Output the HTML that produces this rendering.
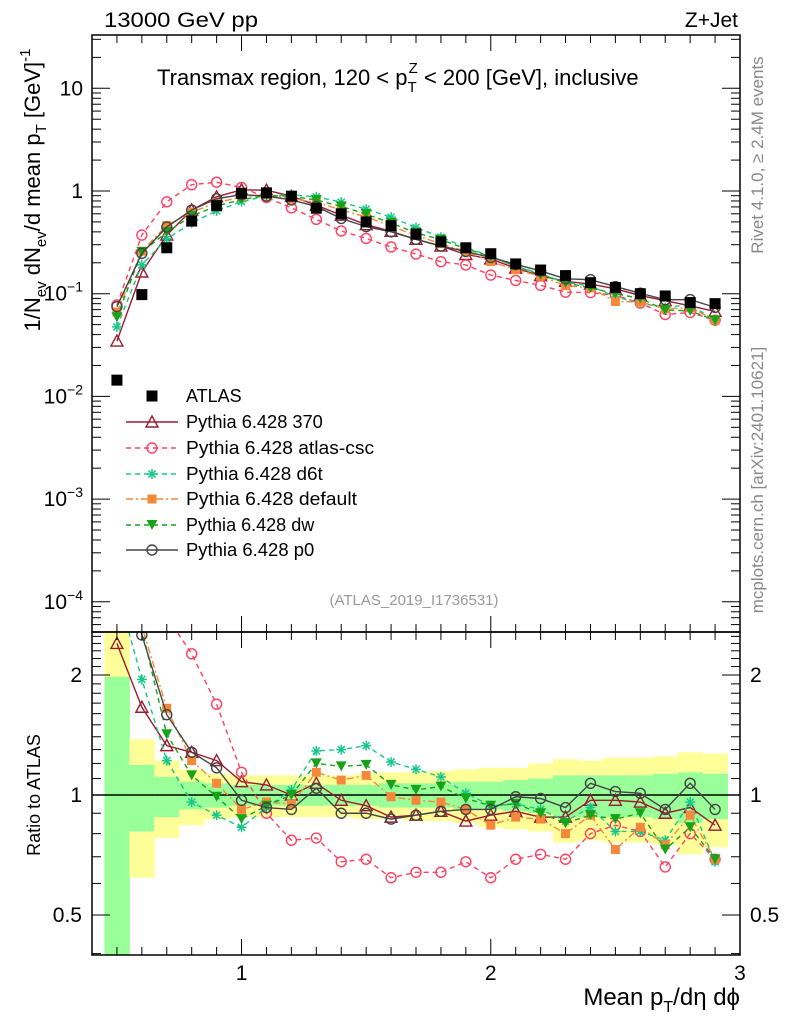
<!DOCTYPE html>
<html><head><meta charset="utf-8"><style>
body{margin:0;background:#fff;}
svg{display:block;font-family:"Liberation Sans",sans-serif;}
</style></head><body>
<svg id="c" width="786" height="1024" xmlns="http://www.w3.org/2000/svg"></svg>
<script>
const xBins=[0.5,0.6,0.7,0.8,0.9,1.0,1.1,1.2,1.3,1.4,1.5,1.6,1.7,1.8,1.9,2.0,2.1,2.2,2.3,2.4,2.5,2.6,2.7,2.8,2.9];
const atlasVals=[0.0144,0.098,0.28,0.51,0.72,0.95,0.96,0.89,0.68,0.6,0.5,0.46,0.38,0.32,0.28,0.245,0.195,0.17,0.15,0.128,0.115,0.1,0.095,0.082,0.08];
const r370=[2.4,1.66,1.33,1.28,1.22,1.08,1.06,1.0,1.07,0.97,0.94,0.88,0.89,0.91,0.86,0.89,0.91,0.88,0.88,0.97,0.97,0.96,0.9,0.93,0.84];
const rCsc=[5.4,3.8,2.8,2.26,1.69,1.14,0.9,0.77,0.78,0.68,0.69,0.62,0.64,0.64,0.68,0.62,0.69,0.71,0.69,0.8,0.84,0.81,0.66,0.8,0.69];
const rD6t=[3.3,1.95,1.22,0.96,0.89,0.83,0.93,1.03,1.29,1.3,1.33,1.21,1.16,1.11,1.01,0.94,0.95,0.92,0.86,0.93,0.81,0.81,0.77,0.96,0.68];
const rDef=[4.6,2.65,1.65,1.22,1.07,0.92,0.96,0.95,1.14,1.09,1.12,0.99,0.97,0.96,0.92,0.84,0.88,0.87,0.8,0.89,0.73,0.83,0.75,0.89,0.69];
const rDw=[4.1,2.6,1.42,1.12,0.99,0.87,0.94,1.0,1.2,1.18,1.19,1.06,1.03,1.05,0.98,0.94,0.95,0.9,0.85,0.89,0.87,0.9,0.73,0.83,0.69];
const rP0=[5.2,2.52,1.59,1.28,1.17,0.97,0.93,0.92,1.04,0.9,0.9,0.87,0.89,0.91,0.92,0.92,0.99,0.98,0.93,1.07,1.02,1.01,0.92,1.07,0.92];
const yelUp=[2.6,1.38,1.22,1.16,1.13,1.12,1.12,1.12,1.12,1.12,1.13,1.14,1.14,1.15,1.16,1.17,1.17,1.2,1.23,1.22,1.24,1.24,1.25,1.28,1.27];
const yelLo=[0.3,0.62,0.78,0.84,0.87,0.88,0.88,0.88,0.88,0.88,0.87,0.87,0.86,0.86,0.85,0.83,0.82,0.81,0.76,0.77,0.76,0.76,0.75,0.71,0.74];
const grnUp=[1.98,1.19,1.11,1.08,1.07,1.06,1.06,1.06,1.06,1.06,1.06,1.07,1.07,1.07,1.08,1.08,1.09,1.1,1.12,1.12,1.12,1.12,1.13,1.14,1.13];
const grnLo=[0.3,0.81,0.88,0.92,0.93,0.94,0.94,0.94,0.94,0.94,0.94,0.93,0.93,0.93,0.92,0.92,0.91,0.9,0.88,0.88,0.88,0.88,0.87,0.85,0.87];
const xTicks=[1,2,3];
const mainTicks=[10,1,0.1,0.01,0.001,0.0001];
const mainTickLabels=["10","1","10^-1","10^-2","10^-3","10^-4"];
const ratioTicks=[0.5,1,2];

const NS="http://www.w3.org/2000/svg";
const svg=document.getElementById('c');
const L=92,R=740,T=35,MB=632,B=955;
const X=v=>L+(v-0.4)/2.6*(R-L);
const YM=v=>191-Math.log10(v)*102.7;
const YR=v=>795-Math.log2(v)*120;
function el(tag,attrs,parent){const e=document.createElementNS(NS,tag);for(const k in attrs)e.setAttribute(k,attrs[k]);(parent||svg).appendChild(e);return e;}
const defs=el('defs',{});
const c1=el('clipPath',{id:'cm'},defs);el('rect',{x:L,y:T,width:R-L,height:MB-T},c1);
const c2=el('clipPath',{id:'cr'},defs);el('rect',{x:L,y:MB,width:R-L,height:B-MB},c2);
const gMain=el('g',{'clip-path':'url(#cm)'});


const gRat=el('g',{'clip-path':'url(#cr)'});



xBins.forEach((x,i)=>{
  const r=el('rect',{x:X(x-0.05),y:YR(yelUp[i]),width:X(x+0.05)-X(x-0.05)+0.5,height:YR(yelLo[i])-YR(yelUp[i]),fill:'#ffff99'},gRat);
  
  
  const g=el('rect',{x:X(x-0.05),y:YR(grnUp[i]),width:X(x+0.05)-X(x-0.05)+0.5,height:YR(grnLo[i])-YR(grnUp[i]),fill:'#99ff99'},gRat);
  
  
});
el('line',{x1:L,x2:R,y1:YR(1),y2:YR(1),stroke:'#000','stroke-width':1.5},gRat);

function marker(g,type,cx,cy,col){
  const s=5;let m;
  if(type==='tri')m=el('polygon',{points:`${cx},${cy-6} ${cx-6},${cy+5} ${cx+6},${cy+5}`,fill:'none',stroke:col,'stroke-width':1.4},g);
  else if(type==='circ')m=el('circle',{cx,cy,r:5,fill:'none',stroke:col,'stroke-width':1.4},g);
  else if(type==='sq')m=el('rect',{x:cx-4.5,y:cy-4.5,width:9,height:9,fill:col},g);
  else if(type==='bsq')m=el('rect',{x:cx-5.5,y:cy-5.5,width:11,height:11,fill:col},g);
  else if(type==='dtri')m=el('polygon',{points:`${cx-5.5},${cy-5} ${cx+5.5},${cy-5} ${cx},${cy+5}`,fill:col},g);
  else if(type==='star'){m=el('g',{stroke:col,'stroke-width':1.5},g);for(let a=0;a<4;a++){const an=a*Math.PI/4;el('line',{x1:cx-s*Math.cos(an),y1:cy-s*Math.sin(an),x2:cx+s*Math.cos(an),y2:cy+s*Math.sin(an)},m);}}
  return m;
}
const series=[
 {name:'Pythia 6.428 370',r:r370,col:'#9b1b30',dash:'',m:'tri',id:'370'},
 {name:'Pythia 6.428 atlas-csc',r:rCsc,col:'#ff4060',dash:'5,4',m:'circ',id:'atlas-csc'},
 {name:'Pythia 6.428 d6t',r:rD6t,col:'#18c88a',dash:'5,4',m:'star',id:'d6t'},
 {name:'Pythia 6.428 default',r:rDef,col:'#f5883a',dash:'7,3,2,3',m:'sq',id:'default'},
 {name:'Pythia 6.428 dw',r:rDw,col:'#17a317',dash:'5,4',m:'dtri',id:'dw'},
 {name:'Pythia 6.428 p0',r:rP0,col:'#444444',dash:'',m:'circ',id:'p0'}
];
series.forEach(s=>{
  const mv=s.r.map((r,i)=>r*atlasVals[i]);
  const p1=el('polyline',{points:xBins.map((x,i)=>X(x)+','+YM(mv[i])).join(' '),fill:'none',stroke:s.col,'stroke-width':1.4,'stroke-dasharray':s.dash},gMain);
  
  
  const p2=el('polyline',{points:xBins.map((x,i)=>X(x)+','+YR(s.r[i])).join(' '),fill:'none',stroke:s.col,'stroke-width':1.4,'stroke-dasharray':s.dash},gRat);
  
  
  xBins.forEach((x,i)=>{
    const a=marker(gMain,s.m,X(x),YM(mv[i]),s.col);
    
    
    const b=marker(gRat,s.m,X(x),YR(s.r[i]),s.col);
    
    
  });
});
xBins.forEach((x,i)=>{
  const a=marker(gMain,'bsq',X(x),YM(atlasVals[i]),'#000');
  
  
});

[[T,MB],[MB,B]].forEach(([t,b])=>el('rect',{x:L,y:t,width:R-L,height:b-t,fill:'none',stroke:'#000','stroke-width':1.5}));
for(let k=5;k<=29;k++){
  const v=k/10,x=X(v),maj=(k%10===0);const len=maj?16:8;
  [[T,1],[MB,-1],[MB,1],[B,-1]].forEach(([y,d])=>el('line',{x1:x,x2:x,y1:y,y2:y+d*len,stroke:'#000','stroke-width':1}));
}
xTicks.forEach(v=>{const t=el('text',{x:X(v),y:B+25,'font-size':21,'text-anchor':'middle'});t.textContent=v;
});
for(let e=-5;e<=1;e++){for(let m=1;m<=9;m++){const v=m*Math.pow(10,e);const y=YM(v);if(y<T||y>MB)continue;const len=m===1?18:9;
 el('line',{x1:L,x2:L+len,y1:y,y2:y,stroke:'#000'});el('line',{x1:R,x2:R-len,y1:y,y2:y,stroke:'#000'});}}
mainTicks.forEach((v,i)=>{const y=YM(v);const lab=mainTickLabels[i];const t=el('text',{x:L-9,y:y+7,'font-size':21,'text-anchor':'end'});
 
 if(lab.indexOf('^')>0){const [b,ex]=lab.split('^');const s1=el('tspan',{},t);s1.textContent=b;const s2=el('tspan',{dy:-9,'font-size':14},t);s2.textContent=ex.replace('-','\u2212');}else t.textContent=lab;});
for(let m=4;m<=25;m++){const v=m/10;const y=YR(v);if(y<MB||y>B)continue;const maj=ratioTicks.some(r=>Math.abs(r-v)<1e-6);const len=maj?18:9;
 el('line',{x1:L,x2:L+len,y1:y,y2:y,stroke:'#000'});el('line',{x1:R,x2:R-len,y1:y,y2:y,stroke:'#000'});}
ratioTicks.forEach(v=>{const y=YR(v);const a=el('text',{x:L-10,y:y+7,'font-size':21,'text-anchor':'end'});a.textContent=v;
 
 const b=el('text',{x:R+10,y:y+7,'font-size':21});b.textContent=v;
 });

const legY=[396,422,448,474,499,525,550];
let lg=el('g',{});


marker(lg,'bsq',152,legY[0],'#000');
let lt=el('text',{x:186,y:legY[0]+6,'font-size':18},lg);lt.textContent='ATLAS';
series.forEach((s,i)=>{const y=legY[i+1];
 el('line',{x1:126,x2:178,y1:y,y2:y,stroke:s.col,'stroke-width':1.4,'stroke-dasharray':s.dash},lg);
 marker(lg,s.m,152,y,s.col);
 const t=el('text',{x:186,y:y+6,'font-size':18,textLength:s.name.length*8.55,lengthAdjust:'spacingAndGlyphs'},lg);t.textContent=s.name;
 });
</script>
<svg width="786" height="1024" style="position:absolute;left:0;top:0" xmlns="http://www.w3.org/2000/svg">
<text x="104" y="27" font-size="21" textLength="154" lengthAdjust="spacingAndGlyphs" font-family="Liberation Sans">13000 GeV pp</text>
<text x="738" y="27" font-size="21" text-anchor="end" font-family="Liberation Sans">Z+Jet</text>
<text x="157" y="85" font-size="22" font-family="Liberation Sans">Transmax region, 120 &lt; p<tspan font-size="15" dy="7">T</tspan><tspan font-size="15" dx="-8" dy="-19">Z</tspan><tspan dy="12"> &lt; 200 [GeV], inclusive</tspan></text>
<text x="414" y="605" font-size="15" fill="#999" text-anchor="middle" font-family="Liberation Sans">(ATLAS_2019_I1736531)</text>
<text transform="translate(763,155) rotate(-90)" font-size="17" fill="#888" text-anchor="middle" font-family="Liberation Sans">Rivet 4.1.0, ≥ 2.4M events</text>
<text transform="translate(763,480) rotate(-90)" font-size="17" fill="#888" text-anchor="middle" font-family="Liberation Sans">mcplots.cern.ch [arXiv:2401.10621]</text>
<text transform="translate(40,190) rotate(-90)" font-size="22" text-anchor="middle" font-family="Liberation Sans">1/N<tspan font-size="15" dy="6">ev</tspan><tspan dy="-6"> dN</tspan><tspan font-size="15" dy="6">ev</tspan><tspan dy="-6">/d mean p</tspan><tspan font-size="15" dy="6">T</tspan><tspan dy="-6"> [GeV]</tspan><tspan font-size="15" dy="-10">-1</tspan></text>
<text transform="translate(40,795) rotate(-90)" font-size="18" text-anchor="middle" font-family="Liberation Sans">Ratio to ATLAS</text>
<text x="740" y="1005" font-size="24" text-anchor="end" font-family="Liberation Sans">Mean p<tspan font-size="16" dy="7">T</tspan><tspan dy="-7">/dη dϕ</tspan></text>
</svg>
</body></html>
